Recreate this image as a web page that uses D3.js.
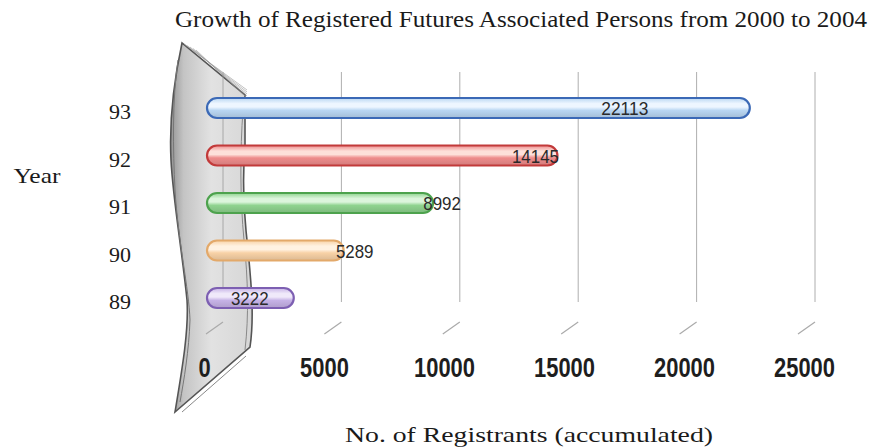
<!DOCTYPE html>
<html>
<head>
<meta charset="utf-8">
<script src="https://cdn.jsdelivr.net/npm/d3@7"></script>
<style>
  html, body { margin: 0; padding: 0; background: #ffffff; }
  svg { display: block; }
  .serif { font-family: "Liberation Serif", "Times New Roman", serif; fill: #1a1a1a; }
  .narrow { font-family: "Liberation Sans", Arial, sans-serif; }
</style>
</head>
<body>
<script>
// Registered futures associated persons, accumulated, by ROC year
const years = ["93", "92", "91", "90", "89"];
const registrants = [22113, 14145, 8992, 5289, 3222];
const xTicks = [0, 5000, 10000, 15000, 20000, 25000];

const title = "Growth of Registered Futures Associated Persons from 2000 to 2004";
const yTitle = "Year";
const xTitle = "No. of Registrants (accumulated)";

// pill colours: [border, body, highlight]
const palette = [
  ["#3b69b6", "#b9d6f2", "#eef6ff"],
  ["#c23a3a", "#ee8c8c", "#fde0da"],
  ["#4da24d", "#8fd38f", "#dcf5dc"],
  ["#e3a96a", "#f8d2a6", "#fff2e2"],
  ["#7d5fb2", "#c6b2e6", "#f0e9fa"]
];
// where each value label sits relative to its bar end
const labelNudge = [-125, -22, 9, 11, -44];

const W = 873, H = 448;
const svg = d3.select("body").append("svg").attr("width", W).attr("height", H);
const defs = svg.append("defs");

// back-wall scale (grid), front scale (bars), label scale (tick text)
const xBack = d3.scaleLinear().domain([0, 25000]).range([223, 815]);
const xFront = d3.scaleLinear().domain([0, 25000]).range([216, 819.5]);
const xLabel = d3.scaleLinear().domain([0, 25000]).range([204, 804]);
const y = d3.scalePoint().domain(years).range([108, 298]);
const barH = 20;

// curved side wall on the left
const wallGrad = defs.append("linearGradient").attr("id", "wallGrad")
  .attr("x1", "0").attr("x2", "1").attr("y1", "0").attr("y2", "0");
[["0%", "#949494"], ["16%", "#c4c4c4"], ["50%", "#e2e2e2"], ["100%", "#d6d6d6"]]
  .forEach(([o, c]) => wallGrad.append("stop").attr("offset", o).attr("stop-color", c));

const wall = svg.append("g");
wall.append("path")
  .attr("d", "M182,43 C174,80 169,120 171,160 C173,200 182,250 187,300 C189,330 182,370 175,412 L250,347 C254,320 252,290 248,250 C244,215 242,180 245,150 L245,95 Z")
  .attr("fill", "url(#wallGrad)")
  .attr("stroke", "#555")
  .attr("stroke-width", 1.6);
wall.append("path")
  .attr("d", "M178,60 C172,100 173,150 175,190 C178,240 189,290 190,320 C189,350 184,380 180,402")
  .attr("fill", "none").attr("stroke", "#777").attr("stroke-width", 1);
wall.append("path")
  .attr("d", "M182,412 L246,356 M243,110 C240,150 240,200 244,240 C248,280 249,315 245,350")
  .attr("fill", "none").attr("stroke", "#888").attr("stroke-width", 1);
// fan of thin lines on the wall's top edge
d3.range(5).forEach(i => {
  wall.append("line")
    .attr("x1", 184 + i * 3).attr("y1", 44 + i * 1.5)
    .attr("x2", 247).attr("y2", 90 + i * 2)
    .attr("stroke", "#999").attr("stroke-width", 0.6);
});

// back-wall grid lines and floor ticks
const grid = svg.append("g");
xTicks.forEach(t => {
  grid.append("line")
    .attr("x1", xBack(t)).attr("x2", xBack(t))
    .attr("y1", 72).attr("y2", 302)
    .attr("stroke", "#999").attr("stroke-width", 0.8);
  grid.append("line")
    .attr("x1", xBack(t)).attr("y1", 322)
    .attr("x2", xBack(t) - 17).attr("y2", 334)
    .attr("stroke", "#aaa").attr("stroke-width", 1.2);
});

// tick text along the floor
const axis = svg.append("g").attr("transform", "translate(0,377)")
  .call(d3.axisBottom(xLabel).tickValues(xTicks).tickSize(0).tickPadding(0).tickFormat(d3.format("d")));
axis.select(".domain").remove();
axis.selectAll("text")
  .attr("class", "narrow")
  .attr("font-size", 27)
  .attr("font-weight", "bold")
  .attr("fill", "#1e1e1e")
  .attr("dy", "0")
  .attr("textLength", d => String(d).length * 12.2)
  .attr("lengthAdjust", "spacingAndGlyphs");

// pill-shaped bars
const bars = svg.append("g");
registrants.forEach((v, i) => {
  const g = defs.append("linearGradient").attr("id", "barGrad" + i)
    .attr("x1", "0").attr("x2", "0").attr("y1", "0").attr("y2", "1");
  const [edge, body, hi] = palette[i];
  [["0%", body], ["28%", hi], ["45%", hi], ["62%", body], ["100%", d3.color(body).darker(0.35)]]
    .forEach(([o, c]) => g.append("stop").attr("offset", o).attr("stop-color", c));

  const x0 = xFront(0) - 9;
  const x1 = xFront(v);
  bars.append("rect")
    .attr("x", x0).attr("y", y(years[i]) - barH / 2)
    .attr("width", x1 - x0).attr("height", barH)
    .attr("rx", barH / 2).attr("ry", barH / 2)
    .attr("fill", `url(#barGrad${i})`)
    .attr("stroke", edge).attr("stroke-width", 2.2);

  svg.append("text")
    .attr("class", "narrow")
    .attr("x", x1 + labelNudge[i]).attr("y", y(years[i]) + 7)
    .attr("text-anchor", "middle")
    .attr("font-size", 19)
    .attr("fill", "#2a2a2a")
    .attr("textLength", String(v).length * 9.4)
    .attr("lengthAdjust", "spacingAndGlyphs")
    .text(v);
});

// year labels
svg.append("g").selectAll("text").data(years).join("text")
  .attr("class", "serif")
  .attr("x", 131).attr("y", d => y(d) + 11)
  .attr("text-anchor", "end")
  .attr("font-size", 20)
  .attr("textLength", 22)
  .attr("lengthAdjust", "spacingAndGlyphs")
  .text(d => d);

// titles
svg.append("text").attr("class", "serif")
  .attr("x", 521).attr("y", 27)
  .attr("text-anchor", "middle").attr("font-size", 24)
  .attr("textLength", 692).attr("lengthAdjust", "spacingAndGlyphs")
  .text(title);
svg.append("text").attr("class", "serif")
  .attr("x", 37).attr("y", 183)
  .attr("text-anchor", "middle").attr("font-size", 22)
  .attr("textLength", 47).attr("lengthAdjust", "spacingAndGlyphs")
  .text(yTitle);
svg.append("text").attr("class", "serif")
  .attr("x", 529).attr("y", 442)
  .attr("text-anchor", "middle").attr("font-size", 22)
  .attr("textLength", 368).attr("lengthAdjust", "spacingAndGlyphs")
  .text(xTitle);
</script>
</body>
</html>
